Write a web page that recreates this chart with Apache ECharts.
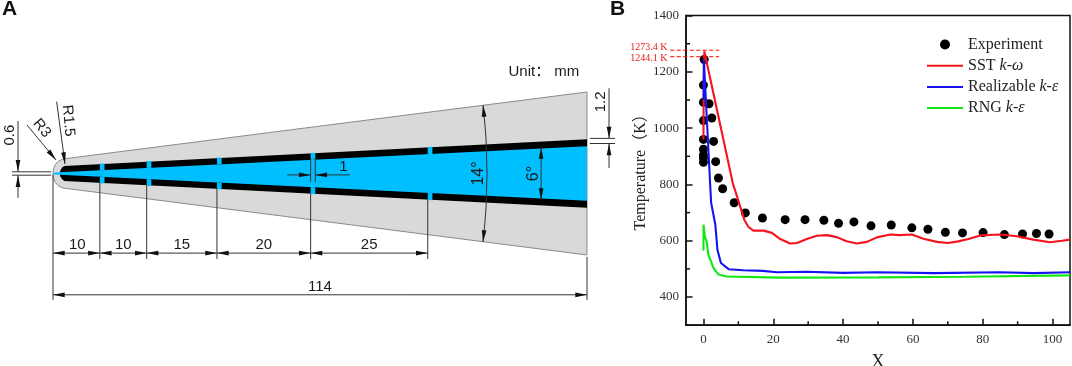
<!DOCTYPE html>
<html>
<head>
<meta charset="utf-8">
<style>html,body{margin:0;padding:0;background:#fff}#c{width:1072px;height:366px}</style>
<script src="https://cdn.jsdelivr.net/npm/echarts@6/dist/echarts.min.js"></script>
</head>
<body>
<div id="c"></div>
<script>
// ---- Panel B data ----
const experimentX = [0.2,0,0,1.6,0,2.4,0,2.9,0,0,0,0,3.5,4.3,5.5,8.8,12,16.9,23.4,29.1,34.5,38.7,43.1,48,53.8,59.7,64.3,69.3,74.2,80.1,86.2,91.4,95.4,99];
const experimentY = [1244,1153,1092,1087,1027,1036,960,953,925,905,894,879,881,823,785,735,699,681,675,675,673,662,667,653,656,646,641,630,628,629,622,624,626,624];
const sstX = [0,0.05,0.25,8.4,9.9,11.7,12.9,14.3,17.2,19.6,22,24.8,26.8,29.6,32.5,35.4,38.2,41,44,46.8,49.7,53.5,56,59.7,63,66.9,70,72.6,75.9,79.3,85,89.8,94.5,99.3,102.7,105];
const sstY = [960,1100,1273.4,805,746,675,649,636,636,628,606,590,592,606,618,620,613,598,590,596,612,622,620,622,607,596,592,597,606,619,622,616,604,595,600,604];
const realizableX = [0.05,0.1,1.9,2.2,3.4,4,5,7.2,11.4,17,21,29.6,40,50,66,85,94.5,105];
const realizableY = [1100,1244,805,735,658,568,521,499,495,493,488,490,486,488,485,488,485,488];
const rngX = [0,0.02,0.4,0.9,1.4,2.9,4.3,6.7,22,50,75,105];
const rngY = [565,657,616,598,551,503,480,473,469,470,472,477];
const peakLevels = [1277, 1254];
const peakLabels = ['1273.4 K', '1244.1 K'];
const peakLabelValues = [1288, 1249];
const yMajorTicks = [400,600,800,1000,1200,1400];
const yMinorTicks = [300,500,700,900,1100,1300];
const xMajorTicks = [0,20,40,60,80,100];
const xMinorTicks = [10,30,50,70,90];

// ---- Panel A geometry, in millimetres ----
const outerTop = [[0,0],[0.1,1.0],[0.5,1.9],[1.1,2.6],[2.1,3.1],[114,17.4]];
const wallTop = [[1.45,0],[1.55,0.6],[1.9,1.2],[2.4,1.62],[114,7.3]];
const channelTop = [[0,0.15],[1.5,0.25],[114,5.8]];
const tapPositions = [10,20,35,55,80];
const dimStops = [0,10,20,35,55,80];
const dimLabels = ['10','10','15','20','25'];

const SERIF = '"Liberation Serif","Noto Sans CJK SC",serif';
const SANS = '"Liberation Sans","Noto Sans CJK SC",sans-serif';
const LINE = '#333';
const LEGEND_LINE = 'path://M0 4L36 4L36 6L0 6ZM0 0L0 0M36 10L36 10';

const wallAt = x => 1.62 + (x - 2.4) * (7.3 - 1.62) / 111.6;
const chanAt = x => 0.25 + (x - 1.5) * (5.8 - 0.25) / 112.5;
const closed = top => top.concat(top.slice().reverse().filter(p => p[1] !== 0).map(p => [p[0], -p[1]]));

function renderSchematic(params, api) {
  const C = p => api.coord(p);
  const kids = [];
  const poly = (pts, fill, stroke) => kids.push({type:'polygon', shape:{points:pts.map(C)}, style:{fill, stroke: stroke || null, lineWidth: stroke ? 1 : 0}});
  const seg = (a, b, w) => kids.push({type:'line', shape:{x1:C(a)[0], y1:C(a)[1], x2:C(b)[0], y2:C(b)[1]}, style:{stroke:LINE, lineWidth:w || 1}});
  const head = (tip, from) => {
    const dx = from[0]-tip[0], dy = from[1]-tip[1], L = Math.hypot(dx,dy)||1, ux=dx/L, uy=dy/L, len=2.5, hw=0.5;
    poly([tip,[tip[0]+ux*len-uy*hw, tip[1]+uy*len+ux*hw],[tip[0]+ux*len+uy*hw, tip[1]+uy*len-ux*hw]], '#111');
  };
  const arrow = (from, tip) => { seg(from, tip); head(tip, from); };
  const txt = (s, p, rot, size) => {
    const q = C(p);
    kids.push({type:'text', x:q[0], y:q[1], rotation:(rot||0)*Math.PI/180, style:{text:s, font:(size||15)+'px '+SANS, fill:'#1a1a1a', textAlign:'center', textVerticalAlign:'middle'}});
  };

  poly(closed(outerTop), '#d9d9d9', '#8a8a8a');
  poly(closed(wallTop), '#000');
  poly(closed(channelTop), '#00bfff');
  tapPositions.forEach(x => {
    [1,-1].forEach(s => poly([[x,s*chanAt(x)],[x+1,s*chanAt(x+1)],[x+1,s*(wallAt(x+1)+0.1)],[x,s*(wallAt(x)+0.1)]], '#00bfff'));
    seg([x,-wallAt(x)],[x,-18.25]);
  });

  // chain of dimensions
  seg([0,-0.3],[0,-27]);
  seg([114,-17.8],[114,-27]);
  dimLabels.forEach((s,i) => {
    const a = dimStops[i], b = dimStops[i+1];
    seg([a,-17],[b,-17]);
    head([a,-17],[b,-17]); head([b,-17],[a,-17]);
    txt(s, [(a+b)/2 + (i===0?0.2:0), -15.2]);
  });
  seg([0,-25.9],[114,-25.9]);
  head([0,-25.9],[114,-25.9]); head([114,-25.9],[0,-25.9]);
  txt('114', [57,-24.2]);

  // tap width
  seg([55,3.3],[55,-1.8]); seg([56,3.3],[56,-1.8]);
  arrow([50,-0.3],[55,-0.3]);
  arrow([63.3,-0.3],[56,-0.3]);
  txt('1', [62,1.4]);

  // angles
  const arc = [[91.8,14.6],[92.2,10.5],[92.45,7.3],[92.66,0],[92.45,-7.3],[92.2,-10.5],[91.8,-14.6]];
  for (let i=0;i<arc.length-1;i++) seg(arc[i],arc[i+1]);
  head(arc[0],arc[1]); head(arc[6],arc[5]);
  txt('14°',[90.8,0],90,16);
  seg([104.2,5.66],[104.2,-5.66]);
  head([104.2,5.66],[104.2,-5.66]); head([104.2,-5.66],[104.2,5.66]);
  txt('6°',[102.5,0],90,16);

  // wall thickness
  seg([114.6,7.5],[120,7.5]); seg([114.6,6.4],[120,6.4]);
  arrow([118.7,18.2],[118.7,7.5]);
  arrow([118.7,1.17],[118.7,6.4]);
  txt('1.2',[117,15.3],90,15);

  // nose
  seg([-8.75,0.36],[-0.4,0.36]); seg([-8.75,-0.36],[-0.4,-0.36]);
  arrow([-7.47,11.2],[-7.47,0.38]);
  arrow([-7.47,-5.2],[-7.47,-0.38]);
  txt('0.6',[-9.2,8.2],90,15);
  arrow([-5.55,10.35],[0.64,2.88]);
  txt('R3',[-2.4,9.65],-50);
  arrow([0.78,15.33],[2.56,2.03]);
  txt('R1.5',[3.27,11.27],-85);

  txt('Unit： mm',[104.8,21.7]);
  return {type:'group', children:kids};
}

function renderPeaks(params, api) {
  const kids = [];
  peakLevels.forEach((v,i) => {
    const a = api.coord([-9.5,v]), b = api.coord([4.5,v]), t = api.coord([-10.3,peakLabelValues[i]]);
    kids.push({type:'line', shape:{x1:a[0],y1:a[1],x2:b[0],y2:b[1]}, style:{stroke:'#ff0000',lineWidth:1,lineDash:[4,2.5]}});
    kids.push({type:'text', x:t[0], y:t[1], style:{text:peakLabels[i], font:'10px '+SERIF, fill:'#f01818', textAlign:'right', textVerticalAlign:'middle'}});
  });
  return {type:'group', children:kids};
}

// minor ticks, placed through the axis scales
function renderMinorTicks(params, api) {
  const kids = [];
  const stroke = (x1,y1,x2,y2) => kids.push({type:'line', shape:{x1,y1,x2,y2}, style:{stroke:'#111',lineWidth:1.5}});
  xMinorTicks.forEach(v => { const p = api.coord([v,300]); stroke(p[0],p[1],p[0],p[1]-4); });
  yMinorTicks.forEach(v => { const p = api.coord([-5,v]); stroke(p[0],p[1],p[0]+4,p[1]); });
  return {type:'group', children:kids};
}

const zip = (xs, ys) => xs.map((x,i) => [x, ys[i]]);
const lineSeries = (name, xs, ys, color) => ({
  name, type:'line', xAxisIndex:0, yAxisIndex:0, showSymbol:false, symbol:'none', smooth:false,
  data:zip(xs,ys), lineStyle:{color, width:2.1}, itemStyle:{color}, z:3, animation:false
});

const chart = echarts.init(document.getElementById('c'), null, {renderer:'canvas'});
chart.setOption({
  animation:false,
  backgroundColor:'#fff',
  graphic:[
    {type:'text', left:2, top:-1, style:{text:'A', font:'bold 21px '+SANS, fill:'#111'}},
    {type:'text', left:610, top:-1, style:{text:'B', font:'bold 21px '+SANS, fill:'#111'}}
  ],
  grid:[
    {left:686, top:15.6, width:384, height:309.6, show:true, borderColor:'#111', borderWidth:1.5, backgroundColor:'transparent', outerBoundsMode:'none', containLabel:false},
    {left:53, top:0, width:534, height:366, show:false, outerBoundsMode:'none'}
  ],
  xAxis:[
    {type:'value', gridIndex:0, min:-5, max:105, interval:5, name:'X', nameLocation:'middle', nameGap:28,
     nameTextStyle:{fontFamily:SERIF, fontSize:18, color:'#222'},
     splitLine:{show:false}, axisLine:{show:true, onZero:false, lineStyle:{color:'#111',width:1.5}},
     axisTick:{show:true, inside:true, length:6.5, customValues:xMajorTicks, lineStyle:{color:'#111',width:1.5}},
     axisLabel:{customValues:xMajorTicks, fontFamily:SERIF, fontSize:13, color:'#333', margin:8}},
    {type:'value', gridIndex:1, min:0, max:114, show:false}
  ],
  yAxis:[
    {type:'value', gridIndex:0, min:300, max:1400, interval:100, name:'Temperature（K）', nameLocation:'middle', nameGap:34, nameRotate:90,
     nameTextStyle:{fontFamily:SERIF, fontSize:16, color:'#222', padding:[0,0,0,4]},
     splitLine:{show:false}, axisLine:{show:true, onZero:false, lineStyle:{color:'#111',width:1.5}},
     axisTick:{show:true, inside:true, length:6.5, customValues:yMajorTicks, lineStyle:{color:'#111',width:1.5}},
     axisLabel:{customValues:yMajorTicks, formatter:v => String(v), fontFamily:SERIF, fontSize:13, color:'#333', margin:7}},
    {type:'value', gridIndex:1, min:-41.1, max:37.04, show:false}
  ],
  legend:{
    show:true, orient:'vertical', left:922, top:31.5, itemWidth:36, itemHeight:10, itemGap:5.2, selectedMode:false, symbolKeepAspect:false,
    data:[{name:'Experiment'},{name:'SST k-ω',icon:LEGEND_LINE},{name:'Realizable k-ε',icon:LEGEND_LINE},{name:'RNG k-ε',icon:LEGEND_LINE}],
    formatter:name => {
      const m = name.match(/^(.*? )(k-.)$/);
      return m ? '{n|'+m[1]+'}{i|'+m[2]+'}' : '{n|'+name+'}';
    },
    textStyle:{fontFamily:SERIF, fontSize:16, color:'#222', rich:{
      n:{fontFamily:SERIF, fontSize:16, color:'#222', height:17},
      i:{fontFamily:SERIF, fontSize:16, color:'#222', fontStyle:'italic', height:17}
    }}
  },
  series:[
    {type:'custom', name:'schematic', xAxisIndex:1, yAxisIndex:1, data:[[0,0]], renderItem:renderSchematic, silent:true, z:1, clip:false},
    {type:'custom', name:'minor ticks', xAxisIndex:0, yAxisIndex:0, data:[[0,0]], renderItem:renderMinorTicks, silent:true, z:5, clip:false},
    {name:'Experiment', type:'scatter', xAxisIndex:0, yAxisIndex:0, data:zip(experimentX,experimentY), symbol:'circle', symbolSize:9, itemStyle:{color:'#000',opacity:1}, z:2},
    lineSeries('SST k-ω', sstX, sstY, '#f5141e'),
    lineSeries('Realizable k-ε', realizableX, realizableY, '#1414f0'),
    lineSeries('RNG k-ε', rngX, rngY, '#14e614'),
    {type:'custom', name:'peaks', xAxisIndex:0, yAxisIndex:0, data:[[0,0]], renderItem:renderPeaks, silent:true, z:4, clip:false}
  ]
});
</script>
</body>
</html>
